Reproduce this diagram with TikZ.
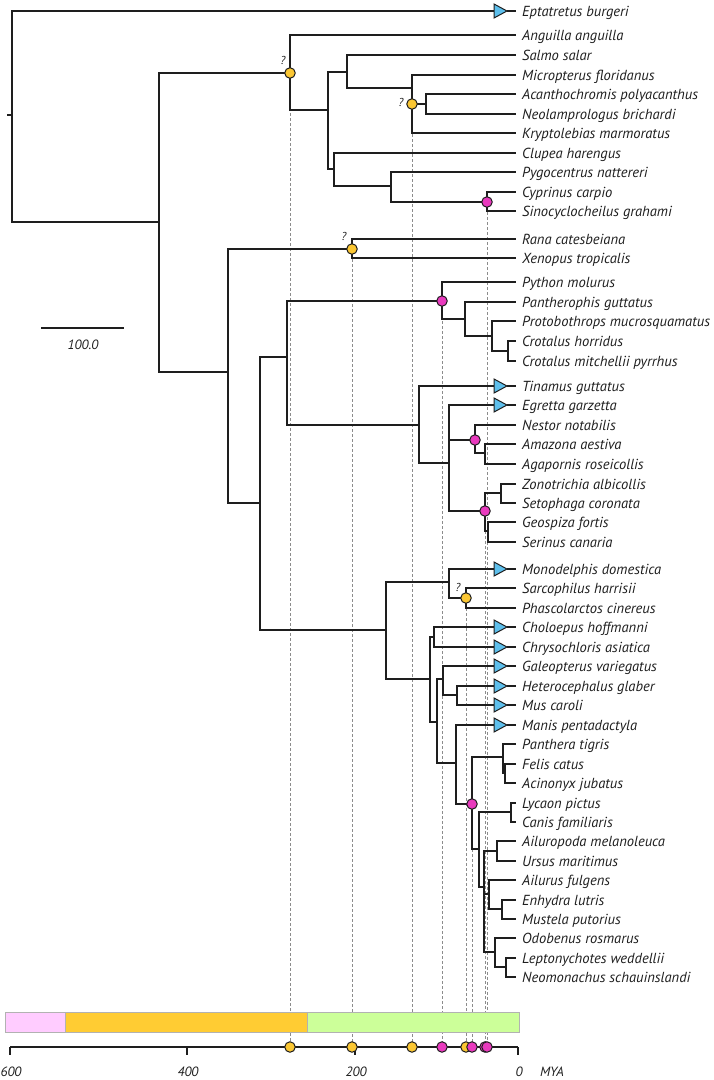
\documentclass[tikz,border=0pt]{standalone}
\usepackage{fontspec}
\setmainfont{PT Sans}
\definecolor{triblue}{HTML}{5DBFEC}
\definecolor{nyel}{HTML}{FBC733}
\definecolor{npink}{HTML}{E93ABE}
\definecolor{barpink}{HTML}{FFCCFF}
\definecolor{barorange}{HTML}{FFCC33}
\definecolor{bargreen}{HTML}{CCFF99}
\definecolor{ink}{HTML}{1E1E1E}
\begin{document}
\begin{tikzpicture}[x=1bp,y=-1bp,
  br/.style={line width=1.35bp,draw=ink},
  tri/.style={line width=1bp,draw=ink,fill=triblue,line join=miter},
  lbl/.style={anchor=base west,inner sep=0pt,text=ink,font=\itshape\fontsize{14.6}{16}\selectfont},
  qm/.style={inner sep=0pt,text=ink,font=\itshape\fontsize{11.5}{12}\selectfont},
  axl/.style={inner sep=0pt,text=ink,font=\itshape\fontsize{13.5}{14}\selectfont},
  ycirc/.style={circle,draw=ink,line width=1bp,fill=nyel,minimum size=10.5bp,inner sep=0pt},
  pcirc/.style={circle,draw=ink,line width=1bp,fill=npink,minimum size=10.5bp,inner sep=0pt},
  dsh/.style={draw=black!45,line width=0.6bp,dash pattern=on 3bp off 2bp},
  barbox/.style={draw=black!30,line width=0.9bp}]
\useasboundingbox (0,0) rectangle (714,1080);

% ---------- leaves ----------
\foreach \i/\y/\t in {1/11/Eptatretus burgeri,2/35/Anguilla anguilla,3/55/Salmo salar,
  4/75/Micropterus floridanus,5/94/Acanthochromis polyacanthus,6/114/Neolamprologus brichardi,
  7/133/Kryptolebias marmoratus,8/153/Clupea harengus,9/172/Pygocentrus nattereri,
  10/192/Cyprinus carpio,11/211/Sinocyclocheilus grahami,12/239/Rana catesbeiana,
  13/258/Xenopus tropicalis,14/282/Python molurus,15/302/Pantherophis guttatus,
  16/321/Protobothrops mucrosquamatus,17/341/Crotalus horridus,18/361/Crotalus mitchellii pyrrhus,
  19/386/Tinamus guttatus,20/405/Egretta garzetta,21/425/Nestor notabilis,
  22/444/Amazona aestiva,23/464/Agapornis roseicollis,24/484/Zonotrichia albicollis,
  25/503/Setophaga coronata,26/522/Geospiza fortis,27/542/Serinus canaria,
  28/569/Monodelphis domestica,29/588/Sarcophilus harrisii,30/608/Phascolarctos cinereus,
  31/627/Choloepus hoffmanni,32/647/Chrysochloris asiatica,33/666/Galeopterus variegatus,
  34/686/Heterocephalus glaber,35/705/Mus caroli,36/725/Manis pentadactyla,
  37/744/Panthera tigris,38/764/Felis catus,39/783/Acinonyx jubatus,
  40/803/Lycaon pictus,41/822/Canis familiaris,42/841/Ailuropoda melanoleuca,
  43/861/Ursus maritimus,44/880/Ailurus fulgens,45/900/Enhydra lutris,
  46/919/Mustela putorius,47/938/Odobenus rosmarus,48/958/Leptonychotes weddellii,
  49/977/Neomonachus schauinslandi}{
  \coordinate (L\i) at (516,\y);
  \coordinate (T\i) at (494,\y);
  \coordinate (P\i) at (507,\y);
  \node[lbl] (t\i) at (522,\y+5) {\t};
}

% ---------- internal nodes ----------
\coordinate (rs) at (7,115);
\coordinate (r) at (12,115);
\coordinate (nV) at (159,222);
\coordinate (nFish) at (290,73);
\coordinate (nA) at (328,110);
\coordinate (nB) at (347,72);
\coordinate (nD) at (412,88);
\coordinate (nDc) at (412,104);
\coordinate (nE) at (426,104);
\coordinate (nC) at (334,169);
\coordinate (nF) at (391,186);
\coordinate (nG) at (487,202);
\coordinate (nTet) at (228,372);
\coordinate (nAmph) at (352,249);
\coordinate (nAmn) at (260,503);
\coordinate (nSaur) at (287,357);
\coordinate (nSq) at (442,301);
\coordinate (nS1) at (465,319);
\coordinate (nS2) at (492,336);
\coordinate (nS3) at (508,351);
\coordinate (nAv) at (419,425);
\coordinate (nNeo) at (449,463);
\coordinate (nPs) at (475,440);
\coordinate (nPs2) at (485,453);
\coordinate (nPa) at (485,511);
\coordinate (nPa1) at (501,493);
\coordinate (nPa2) at (488,531);
\coordinate (nMam) at (386,630);
\coordinate (nMar) at (449,582);
\coordinate (nMar2) at (466,598);
\coordinate (nEu) at (430,679);
\coordinate (nXen) at (434,637);
\coordinate (nB2) at (437,722);
\coordinate (nEA) at (443,679);
\coordinate (nRod) at (457,695);
\coordinate (nLa) at (456,763);
\coordinate (nCar) at (472,804);
\coordinate (nFel) at (503,757);
\coordinate (nFel2) at (505,773);
\coordinate (nCan) at (479,849);
\coordinate (nCani) at (511,812);
\coordinate (nArct) at (484,887);
\coordinate (nUrs) at (497,851);
\coordinate (nMus) at (489,894);
\coordinate (nMus2) at (502,909);
\coordinate (nPin) at (495,952);
\coordinate (nPin2) at (506,967);

% ---------- dashed time guides ----------
\foreach \n/\x [count=\k] in {nFish/290,nAmph/352,nDc/412,nSq/442,nMar2/466,nCar/472,nPa/485,nG/487}{
  \coordinate (g\k) at (\x,1047);
  \draw[dsh] (\n) -- (g\k);
}

% ---------- branches ----------
\draw[br] (rs) -- (r);
\foreach \p/\c in {r/T1,r/nV,nV/nFish,nV/nTet,nFish/L2,nFish/nA,nA/nB,nA/nC,
  nB/L3,nB/nD,nD/L4,nD/nE,nD/L7,nE/L5,nE/L6,nC/L8,nC/nF,nF/L9,nF/nG,nG/L10,nG/L11,
  nTet/nAmph,nTet/nAmn,nAmph/L12,nAmph/L13,nAmn/nSaur,nAmn/nMam,nSaur/nSq,nSaur/nAv,
  nSq/L14,nSq/nS1,nS1/L15,nS1/nS2,nS2/L16,nS2/nS3,nS3/L17,nS3/L18,
  nAv/T19,nAv/nNeo,nNeo/T20,nNeo/nPs,nNeo/nPa,nPs/L21,nPs/nPs2,nPs2/L22,nPs2/L23,
  nPa/nPa1,nPa/nPa2,nPa1/L24,nPa1/L25,nPa2/L26,nPa2/L27,
  nMam/nMar,nMam/nEu,nMar/T28,nMar/nMar2,nMar2/L29,nMar2/L30,
  nEu/nXen,nEu/nB2,nXen/T31,nXen/T32,nB2/nEA,nB2/nLa,nEA/T33,nEA/nRod,
  nRod/T34,nRod/T35,nLa/T36,nLa/nCar,nCar/nFel,nCar/nCan,nFel/L37,nFel/nFel2,
  nFel2/L38,nFel2/L39,nCan/nCani,nCan/nArct,nCani/L40,nCani/L41,
  nArct/nUrs,nArct/nMus,nArct/nPin,nUrs/L42,nUrs/L43,nMus/L44,nMus/nMus2,
  nMus2/L45,nMus2/L46,nPin/L47,nPin/nPin2,nPin2/L48,nPin2/L49}{
  \draw[br] (\p) |- (\c);
}

% ---------- collapsed clades ----------
\foreach \i in {1,19,20,28,31,32,33,34,35,36}{
  \draw[br] (P\i) -- (L\i);
  \draw[tri] ([yshift=-7bp]T\i) -- (P\i) -- ([yshift=7bp]T\i) -- cycle;
}

% ---------- node markers ----------
\node[ycirc] (c1) at (nFish) {};
\node[ycirc] (c2) at (nDc) {};
\node[pcirc] (c3) at (nG) {};
\node[ycirc] (c4) at (nAmph) {};
\node[pcirc] (c5) at (nSq) {};
\node[pcirc] (c6) at (nPs) {};
\node[pcirc] (c7) at (nPa) {};
\node[ycirc] (c8) at (nMar2) {};
\node[pcirc] (c9) at (nCar) {};
\node[qm] (q1) at (283,60) {?};
\node[qm] (q2) at (401,102) {?};
\node[qm] (q3) at (344,236) {?};
\node[qm] (q4) at (458,587) {?};

% ---------- scale bar ----------
\coordinate (sb1) at (41,328);
\coordinate (sb2) at (124,328);
\draw[line width=1.1bp,draw=ink] (sb1) -- (sb2);
\node[axl] (sbl) at (83,345) {100.0};

% ---------- eras bar ----------
\filldraw[barbox,fill=barpink] (5,1012) rectangle (65,1032);
\filldraw[barbox,fill=barorange] (65,1012) rectangle (307,1032);
\filldraw[barbox,fill=bargreen] (307,1012) rectangle (519,1032);

% ---------- time axis ----------
\coordinate (a0) at (10,1047);
\coordinate (a1) at (518,1047);
\draw[line width=1.2bp,draw=ink] (a0) -- (a1);
\foreach \x/\l [count=\k] in {10/600,187/400,355/200,518/0}{
  \draw[line width=1.2bp,draw=ink] (\x,1047) -- (\x,1055);
  \node[axl] (al\k) at (\x+1,1072) {\l};
}
\node[axl] (mya) at (552,1072) {MYA};
\node[ycirc] (tc1) at (g1) {};
\node[ycirc] (tc2) at (g2) {};
\node[ycirc] (tc3) at (g3) {};
\node[pcirc] (tc4) at (g4) {};
\node[ycirc] (tc5) at (g5) {};
\node[pcirc] (tc6) at (g6) {};
\node[pcirc] (tc7) at (g7) {};
\node[pcirc] (tc8) at (g8) {};
\end{tikzpicture}
\end{document}
